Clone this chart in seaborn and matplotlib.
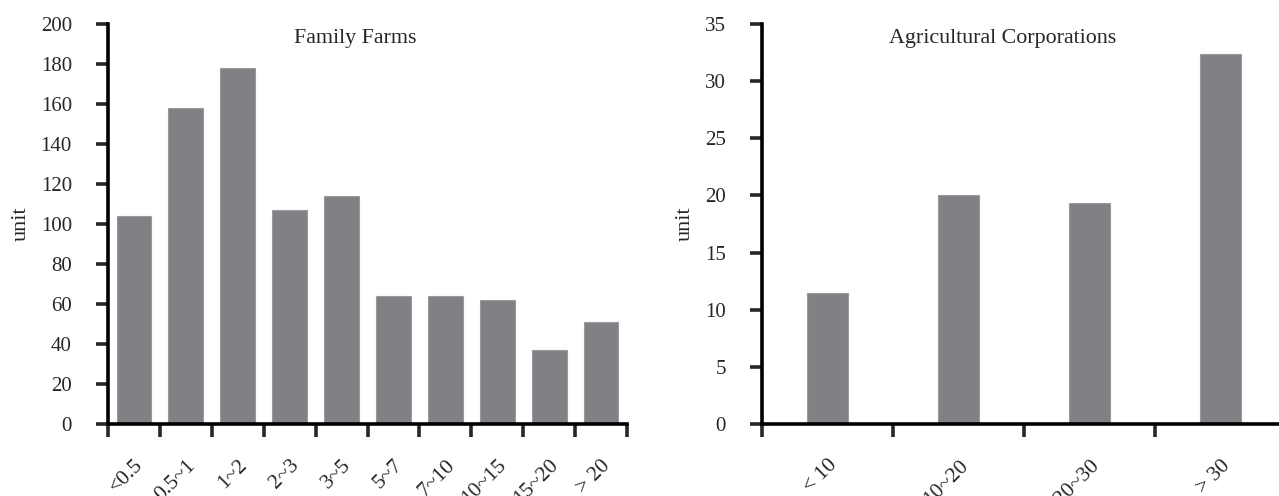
import matplotlib
matplotlib.use("Agg")
import matplotlib.pyplot as plt
import seaborn as sns
import pandas as pd
import numpy as np

farm_categories = ["<0.5", "0.5~1", "1~2", "2~3", "3~5", "5~7", "7~10", "10~15", "15~20", "> 20"]
farm_values = [104, 158, 178, 107, 114, 64, 64, 62, 37, 51]

corp_categories = ["< 10", "10~20", "20~30", "> 30"]
corp_values = [11.5, 20, 19.3, 32.4]

sns.set_style("ticks")
plt.rcParams['font.family'] = ['Liberation Serif', 'DejaVu Serif']

BAR = "#808184"
fig = plt.figure(figsize=(12.79, 4.96), dpi=100)
ax1 = fig.add_axes([108/1279, 72/496, 519/1279, 400/496])
ax2 = fig.add_axes([762/1279, 72/496, 524/1279, 400/496])

df1 = pd.DataFrame({"cat": farm_categories, "val": farm_values})
df2 = pd.DataFrame({"cat": corp_categories, "val": corp_values})

sns.barplot(data=df1, x="cat", y="val", color=BAR, width=0.67, ax=ax1,
            edgecolor="#9a9b9e", linewidth=0.8, saturation=1)
sns.barplot(data=df2, x="cat", y="val", color=BAR, width=0.31, ax=ax2,
            edgecolor="#9a9b9e", linewidth=0.8, saturation=1)

def style(ax, cats, ymax, ystep, title, tx):
    n = len(cats)
    ax.set_xlim(-0.5, n - 0.5)
    ax.set_ylim(0, ymax)
    ax.set_yticks(np.arange(0, ymax + 0.1, ystep))
    ax.set_xticks(np.arange(-0.5, n, 1.0))
    ax.set_xticklabels([])
    ax.set_xticks(np.arange(n), minor=True)
    ax.set_xticklabels(cats, minor=True, rotation=45, ha="right",
                       rotation_mode="anchor", fontsize=15.5)
    ax.tick_params(axis="x", which="minor", length=0, pad=23)
    ax.tick_params(axis="x", which="major", length=9, width=2.6, direction="out")
    ax.tick_params(axis="y", which="major", length=9, width=2.6, direction="out",
                   labelsize=15, pad=17)
    for s in ["top", "right"]:
        ax.spines[s].set_visible(False)
    for s in ["left", "bottom"]:
        ax.spines[s].set_linewidth(2.6)
        ax.spines[s].set_color("black")
    ax.set_xlabel("")
    ax.set_ylabel("unit", fontsize=16, labelpad=7)
    ax.text(tx, 0.965, title, transform=ax.transAxes, ha="center", va="center",
            fontsize=15.8)

style(ax1, farm_categories, 200, 20, "Family Farms", 0.476)
style(ax2, corp_categories, 35, 5, "Agricultural Corporations", 0.46)

fig.savefig("out.png", dpi=100)
